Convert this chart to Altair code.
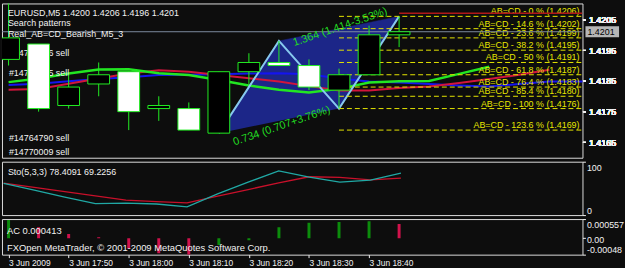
import json
import altair as alt
import pandas as pd

# ---------------- data ----------------
bar_index = list(range(14))
time_labels = ["3 Jun 2009", "", "3 Jun 17:50", "", "3 Jun 18:00", "", "3 Jun 18:10", "",
               "3 Jun 18:20", "", "3 Jun 18:30", "", "3 Jun 18:40", ""]
opens  = [1.4192, 1.4197, 1.4177, 1.4184, 1.4188, 1.4176, 1.4176, 1.4168, 1.4188, 1.4191, 1.4190, 1.4182, 1.4187, 1.4200]
highs  = [1.4212, 1.4197, 1.4187, 1.4191, 1.4188, 1.4180, 1.4178, 1.4188, 1.4194, 1.4198, 1.4192, 1.4189, 1.4203, 1.4206]
lows   = [1.4190, 1.4175, 1.4176, 1.4180, 1.4169, 1.4172, 1.4169, 1.4168, 1.4184, 1.4190, 1.4182, 1.4176, 1.4187, 1.4196]
closes = [1.4199, 1.4176, 1.4183, 1.4187, 1.4175, 1.4177, 1.4169, 1.4188, 1.4191, 1.4190, 1.4183, 1.4187, 1.4200, 1.4201]

# Alligator (jaw shift 8, teeth shift 5, lips shift 3 -> extend to the right)
jaw_blue = [1.41837, 1.41841, 1.41849, 1.41856, 1.41862, 1.41869, 1.41870, 1.41872, 1.41874, 1.41875,
            1.41872, 1.41858, 1.41848, 1.41845, 1.41840, 1.41835, 1.41832, 1.41840, 1.41848, 1.41848, 1.41848]
teeth_red = [1.41821, 1.41824, 1.41841, 1.41858, 1.41874, 1.41885, 1.41880, 1.41869, 1.41859, 1.41848,
             1.41833, 1.41819, 1.41819, 1.41827, 1.41832, 1.41843, 1.41856, 1.41870, 1.41886]
lips_green = [1.41846, 1.41858, 1.41874, 1.41887, 1.41888, 1.41875, 1.41869, 1.41853, 1.41835, 1.41821,
              1.41812, 1.41824, 1.41845, 1.41849, 1.41850, 1.41873, 1.41896]

# AB=CD pattern points
pattern_names = ["A", "B", "C", "D"]
pattern_index = [7, 9, 11, 13]
pattern_price = [1.4168, 1.4198, 1.4176, 1.4206]
pattern_fill_order = [0, 1, 3, 2]
ratio_upper = "1.364 (1.414-3.53%)"
ratio_lower = "0.734 (0.707+3.76%)"

fib_pct = ["0", "14.6", "23.6", "38.2", "50", "61.8", "76.4", "85.4", "100", "123.6", "161.8"]
fib_price = [1.4206, 1.4202, 1.4199, 1.4195, 1.4191, 1.4187, 1.4183, 1.4180, 1.4176, 1.4169, 1.4157]
top_line_price = 1.4207

order_labels = ["#14764816 sell", "#14764745 sell", "#14764790 sell", "#14770009 sell"]
order_prices = [1.41942, 1.41877, 1.41663, 1.41619]

price_ticks = [1.4165, 1.4175, 1.4185, 1.4195, 1.4205]

sto_main = [59.5, 46.6, 33.7, 21.4, 22.5, 20.8, 15.3, 39.8, 61.7, 82.9, 71.3, 61.9, 65.6, 78.4091]
sto_signal = [60.0, 52.0, 44.0, 36.0, 28.0, 25.4, 22.7, 35.5, 47.9, 60.4, 71.8, 70.5, 66.0, 69.2256]

ac_values = [0.00053, 0.00032, 0.00012, 0.00003, -0.00030, -0.00044, -0.00048, -0.00020, -0.00006,
             0.00032, 0.00045, 0.00047, 0.00049, 0.000413]
ac_axis_values = [0.000557, 0.0, -0.00048]
ac_axis_labels = ["0.000557", "0.00", "-0.00048"]

# ---------------- style / layout ----------------
BG = "#0d0d0d"
FONT = "Liberation Sans"
WHITE = "#f2f2f2"
CANDLE = "#22ee22"
W, H_MAIN, H_STO, H_AC = 587, 156, 54, 36
X_DOMAIN = [-0.055, 18.94]

xs = alt.Scale(domain=X_DOMAIN, nice=False, zero=False)
ys = alt.Scale(domain=[1.41600, 1.42102], nice=False, zero=False)

price_axis = alt.Axis(orient="right", values=price_ticks, format=".4f", title=None, grid=False,
                      domain=False, tickSize=3, tickColor=WHITE, labelColor=WHITE, labelPadding=3,
                      labelFont=FONT, labelFontSize=9)


def X(f):
    return alt.X(f, type="quantitative", scale=xs, axis=None)


def Y(f):
    return alt.Y(f, type="quantitative", scale=ys, axis=price_axis)


# ---------------- main panel ----------------
candles = pd.DataFrame({"i": bar_index, "open": opens, "high": highs, "low": lows, "close": closes})
candles["dir"] = ["bull" if c >= o else "bear" for o, c in zip(opens, closes)]

jaw_df = pd.DataFrame({"i": list(range(len(jaw_blue))), "p": jaw_blue})
teeth_df = pd.DataFrame({"i": list(range(len(teeth_red))), "p": teeth_red})
lips_df = pd.DataFrame({"i": list(range(len(lips_green))), "p": lips_green})
pat_df = pd.DataFrame({"name": pattern_names, "i": pattern_index, "p": pattern_price, "k": pattern_fill_order})
fib_df = pd.DataFrame({"p": fib_price,
                       "label": [f"AB=CD - {a} % ({b:.4f})" for a, b in zip(fib_pct, fib_price)],
                       "start": pattern_index[2]})
top_df = pd.DataFrame({"p": [top_line_price], "start": [pattern_index[3]]})
bid_df = pd.DataFrame({"p": [closes[-1]], "label": [f"{closes[-1]:.4f}"]})
ord_df = pd.DataFrame({"p": order_prices, "label": order_labels})
ratio_up_df = pd.DataFrame({"i": [pattern_index[1]], "p": [pattern_price[1]], "t": [ratio_upper]})
ratio_lo_df = pd.DataFrame({"i": [pattern_index[0]], "p": [pattern_price[0]], "t": [ratio_lower]})
head_df = pd.DataFrame({"t": [f"EURUSD,M5  {opens[-1]:.4f} {highs[-1]:.4f} {lows[-1]:.4f} {closes[-1]:.4f}",
                              "Search patterns", "Real_AB=CD_Bearish_M5_3"],
                        "row": [0, 1, 2]})

fill = alt.Chart(pat_df).mark_line(fill="#1c2688", stroke="#1c2688", strokeWidth=0.5, clip=True).encode(
    x=X("i"), y=Y("p"), order="k:Q")
jaw = alt.Chart(jaw_df).mark_line(color="#1414f0", strokeWidth=2, clip=True).encode(x=X("i"), y=Y("p"))
teeth = alt.Chart(teeth_df).mark_line(color="#d2143c", strokeWidth=2, clip=True).encode(x=X("i"), y=Y("p"))
lips = alt.Chart(lips_df).mark_line(color="#22e622", strokeWidth=2.5, clip=True).encode(x=X("i"), y=Y("p"))
zigzag = alt.Chart(pat_df).mark_line(color="#87c8ee", strokeWidth=2, clip=True).encode(
    x=X("i"), y=Y("p"), order="i:Q")
fib_lines = alt.Chart(fib_df).mark_rule(color="#e6e600", strokeDash=[5, 3], strokeWidth=1, clip=True).encode(
    x=X("start"), x2=alt.value(W), y=Y("p"))
fib_text = alt.Chart(fib_df).mark_text(align="right", baseline="alphabetic", dy=-2, color="#e6e600",
                                       font=FONT, fontSize=9, clip=True).encode(
    x=alt.value(W - 3), y=Y("p"), text="label:N")
top_line = alt.Chart(top_df).mark_rule(color="#b01818", strokeWidth=1.5, clip=True).encode(
    x=X("start"), x2=alt.value(W), y=Y("p"))
bid_line = alt.Chart(bid_df).mark_rule(color="#7d8ca0", strokeWidth=1, clip=True).encode(
    x=alt.value(0), x2=alt.value(W), y=Y("p"))
bid_box = alt.Chart(bid_df).mark_tick(orient="horizontal", color="#ffffff", size=34, thickness=11).encode(
    x=alt.value(W + 20), y=Y("p"))
bid_text = alt.Chart(bid_df).mark_text(align="left", baseline="middle", color="#000000", font=FONT,
                                       fontSize=9).encode(x=alt.value(W + 5), y=Y("p"), text="label:N")
ratio_up = alt.Chart(ratio_up_df).mark_text(align="left", baseline="alphabetic", angle=341, dx=13, dy=10,
                                            color="#22dd22", font=FONT, fontSize=11, clip=True).encode(
    x=X("i"), y=Y("p"), text="t:N")
ratio_lo = alt.Chart(ratio_lo_df).mark_text(align="left", baseline="alphabetic", angle=341, dx=11, dy=17,
                                            color="#22dd22", font=FONT, fontSize=11, clip=True).encode(
    x=X("i"), y=Y("p"), text="t:N")
orders = alt.Chart(ord_df).mark_text(align="left", baseline="middle", color=WHITE, font=FONT,
                                     fontSize=9, clip=True).encode(
    x=alt.value(7), y=Y("p"), text="label:N")
wicks = alt.Chart(candles).mark_rule(color=CANDLE, strokeWidth=1, clip=True).encode(
    x=X("i"), y=Y("low"), y2="high:Q")
bodies = alt.Chart(candles).mark_bar(size=22, stroke=CANDLE, strokeWidth=1, clip=True).encode(
    x=X("i"), y=Y("open"), y2="close:Q",
    fill=alt.Fill("dir:N", scale=alt.Scale(domain=["bull", "bear"], range=["#000000", "#ffffff"]), legend=None))
head = alt.Chart(head_df).mark_text(align="left", baseline="middle", color=WHITE, font=FONT, fontSize=9).encode(
    x=alt.value(6), y=alt.Y("row:Q", scale=alt.Scale(domain=[0, 14], range=[9.5, 160]), axis=None), text="t:N")

main = alt.layer(fill, jaw, teeth, lips, zigzag, fib_lines, fib_text, top_line, bid_line, ratio_up,
                 ratio_lo, orders, wicks, bodies, bid_box, bid_text, head).resolve_scale(y="independent").properties(
    width=W, height=H_MAIN)

# ---------------- stochastic panel ----------------
sto_df = pd.DataFrame({"i": bar_index, "main": sto_main, "signal": sto_signal})
sto_axis = alt.Axis(orient="right", values=[0, 100], title=None, grid=False, domain=False, tickSize=3,
                    tickColor=WHITE, labelColor=WHITE, labelPadding=1, labelFont=FONT, labelFontSize=9,
                    labelOffset={"condition": {"test": "datum.value > 50", "value": 6}, "value": -5})
sys_ = alt.Scale(domain=[0, 100], nice=False, zero=False)
sto_sig = alt.Chart(sto_df).mark_line(color="#c8102a", strokeWidth=1.3, clip=True).encode(
    x=X("i"), y=alt.Y("signal:Q", scale=sys_, axis=sto_axis))
sto_m = alt.Chart(sto_df).mark_line(color="#20a8a4", strokeWidth=1.3, clip=True).encode(
    x=X("i"), y=alt.Y("main:Q", scale=sys_, axis=sto_axis))
sto_txt = alt.Chart(pd.DataFrame({"t": [f"Sto(5,3,3) {sto_main[-1]:.4f} {sto_signal[-1]:.4f}"]})).mark_text(
    align="left", baseline="middle", color=WHITE, font=FONT, fontSize=9).encode(
    x=alt.value(6), y=alt.value(10), text="t:N")
sto = alt.layer(sto_sig, sto_m, sto_txt).properties(width=W, height=H_STO)

# ---------------- AC panel ----------------
ac_dir = ["up" if (k == 0 or v > ac_values[k - 1]) else "down" for k, v in enumerate(ac_values)]
ac_df = pd.DataFrame({"i": bar_index, "v": ac_values, "dir": ac_dir})
label_expr = "datum.value > 0 ? '%s' : (datum.value < 0 ? '%s' : '%s')" % (
    ac_axis_labels[0], ac_axis_labels[2], ac_axis_labels[1])
ac_axis = alt.Axis(orient="right", values=ac_axis_values, labelExpr=label_expr, title=None, grid=False,
                   domain=False, tickSize=3, tickColor=WHITE, labelColor=WHITE, labelPadding=1,
                   labelFont=FONT, labelFontSize=9,
                   labelOffset={"condition": [{"test": "datum.value > 0", "value": 6},
                                              {"test": "datum.value < 0", "value": -5}], "value": 1})
x_axis = alt.Axis(values=list(range(0, 13, 2)), labelExpr=json.dumps(time_labels) + "[datum.value]",
                  labelAlign="left", labelBaseline="top", labelPadding=1, tickSize=3, tickColor=WHITE,
                  labelColor=WHITE, labelFont=FONT, labelFontSize=8.5, domain=False, grid=False, title=None,
                  labelOverlap=False, labelFlush=False)
ac_bars = alt.Chart(ac_df).mark_bar(size=3, clip=True).encode(
    x=alt.X("i:Q", scale=xs, axis=x_axis),
    y=alt.Y("v:Q", scale=alt.Scale(domain=[-0.00048, 0.000557], nice=False, zero=False), axis=ac_axis),
    y2=alt.datum(0),
    color=alt.Color("dir:N", scale=alt.Scale(domain=["up", "down"], range=["#0c8c0c", "#d0124c"]), legend=None))
ac_txt = alt.Chart(pd.DataFrame({"t": [f"AC {ac_values[-1]:.6f}",
                                       "FXOpen MetaTrader, \u00a9 2001-2009 MetaQuotes Software Corp."],
                                 "row": [0, 1]})).mark_text(
    align="left", baseline="middle", color=WHITE, font=FONT, fontSize=9.5).encode(
    x=alt.value(5), y=alt.Y("row:Q", scale=alt.Scale(domain=[0, 1], range=[12, 29]), axis=None), text="t:N")
ac = alt.layer(ac_bars, ac_txt).resolve_scale(y="independent").properties(width=W, height=H_AC)

chart = alt.vconcat(main, sto, ac, spacing=2).properties(
    background=BG, padding={"left": 1, "top": 1, "right": 0, "bottom": 0}
).configure_view(stroke="#dcdcdc", strokeWidth=1)

chart.save("out.html", embed_options={"renderer": "svg", "actions": False})
